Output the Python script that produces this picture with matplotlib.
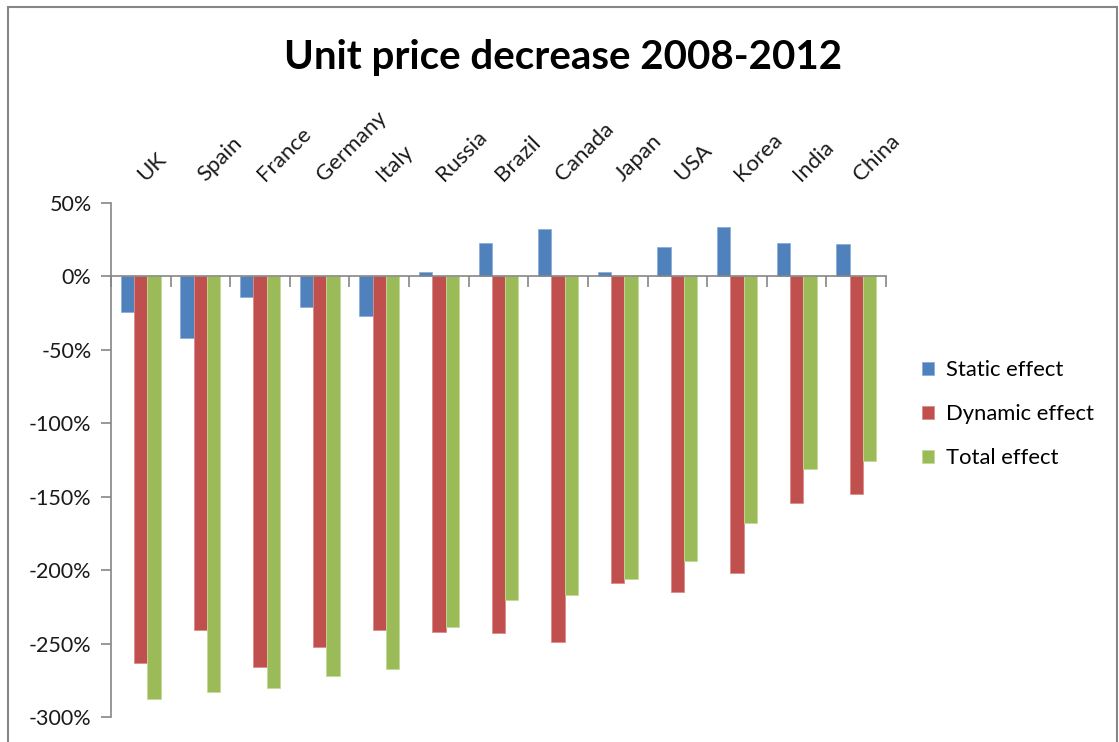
import matplotlib
matplotlib.use("Agg")
import matplotlib.pyplot as plt
from matplotlib.patches import Rectangle
from matplotlib.ticker import FuncFormatter
import numpy as np

plt.rcParams['font.family'] = ['Lato', 'DejaVu Sans']

# data (percent)
countries = ["UK", "Spain", "France", "Germany", "Italy", "Russia", "Brazil",
             "Canada", "Japan", "USA", "Korea", "India", "China"]
static_effect = [-24, -42, -14, -21, -27, 3, 23, 32, 3, 20, 34, 23, 22]
dynamic_effect = [-263, -241, -266, -252, -241, -242, -243, -249, -209, -215,
                  -202, -154, -148]
total_effect = [-288, -283, -280, -272, -267, -239, -220, -217, -206, -194,
                -168, -131, -126]

series_names = ["Static effect", "Dynamic effect", "Total effect"]
colors = ["#4F81BD", "#C0504D", "#9BBB59"]
edges = ["#8CAEDB", "#DE8A88", "#C3DA97"]
grey = "#868686"

fig = plt.figure(figsize=(11.19, 7.42), dpi=100)
ax = fig.add_axes([0.0992, 0.0337, 0.6926, 0.6927])

x = np.arange(len(countries))
w = 0.223
for k, vals in enumerate([static_effect, dynamic_effect, total_effect]):
    ax.bar(x + (k - 1) * w, vals, width=w, color=colors[k],
           edgecolor=edges[k], linewidth=0.6, label=series_names[k], zorder=2)

ax.set_xlim(-0.5, len(countries) - 0.5)
ax.set_ylim(-300, 50)
ax.set_yticks(np.arange(-300, 51, 50))
ax.yaxis.set_major_formatter(FuncFormatter(lambda v, p: f"{int(v)}%"))
ax.tick_params(axis='y', direction='out', length=7, width=1.2, color=grey,
               labelsize=15.5, pad=7, labelcolor="#1a1a1a")

# category axis crossing at 0, ticks between categories
ax.spines['bottom'].set_position(('data', 0))
ax.spines['bottom'].set_color(grey)
ax.spines['bottom'].set_linewidth(1.2)
ax.spines['bottom'].set_zorder(3)
ax.set_xticks(np.arange(-0.5, len(countries), 1))
ax.tick_params(axis='x', direction='out', length=8, width=1.2, color=grey,
               labelbottom=False)
ax.spines['left'].set_color(grey)
ax.spines['left'].set_linewidth(1.2)
ax.spines['top'].set_visible(False)
ax.spines['right'].set_visible(False)

# category labels above the plot
trans = matplotlib.transforms.blended_transform_factory(ax.transData, ax.transAxes)
for i, c in enumerate(countries):
    ax.text(i + 0.08, 1.04, c, transform=trans, rotation=45, ha='left',
            va='baseline', rotation_mode='anchor', fontsize=16, color="#1a1a1a")

fig.text(0.5036, 0.922, "Unit price decrease 2008-2012", ha='center',
         va='center', fontsize=29, fontweight='bold')

ax.legend(loc='center left', bbox_to_anchor=(0.806, 0.442),
          bbox_transform=fig.transFigure, frameon=False, fontsize=15.8,
          handlelength=0.55, handleheight=0.55, handletextpad=0.55,
          labelspacing=1.1)

fig.patches.append(Rectangle((0.0075, -0.02), 0.991, 1.0106,
                             transform=fig.transFigure, fill=False,
                             edgecolor=grey, linewidth=1.5))

fig.savefig("out.png", dpi=100)
